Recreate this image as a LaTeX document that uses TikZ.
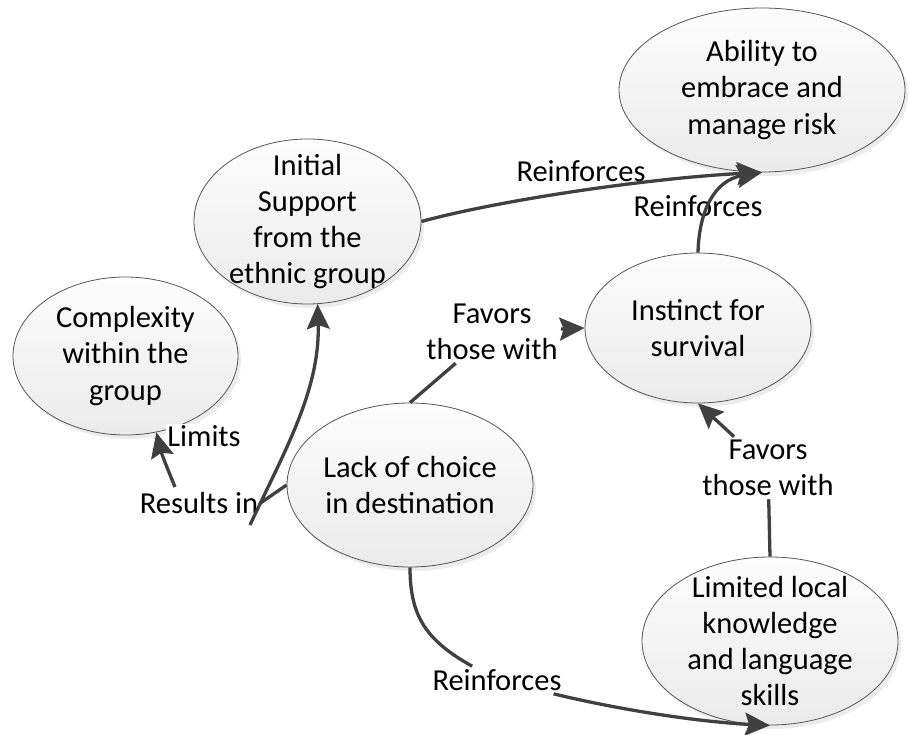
\documentclass[tikz,border=0pt]{standalone}
\usepackage{fontspec}
\setmainfont{Carlito}
\usetikzlibrary{shapes.geometric,shadows,arrows.meta}
\definecolor{edgegray}{HTML}{404040}
\definecolor{rimgray}{HTML}{555555}
\tikzset{
  bubble/.style={ellipse, draw=rimgray, line width=0.8pt, inner sep=0pt,
    top color=black!1, bottom color=black!8,
    drop shadow={shadow xshift=3pt, shadow yshift=-4pt, fill=black!15}},
  caption/.style={align=center, font=\fontsize{30.5}{36.3}\selectfont, inner sep=0pt},
  tag/.style={align=center, font=\fontsize{30.5}{36.3}\selectfont, inner sep=3pt},
  link/.style={draw=edgegray, line width=3.3pt},
  arr/.style={link, -{Stealth[length=25pt,width=23pt,inset=4pt]}},
}
\begin{document}
\begin{tikzpicture}[x=1pt,y=-1pt]
\useasboundingbox (0,0) rectangle (909,735);

% concept ellipses
\node[bubble, minimum width=286pt, minimum height=164pt] (ability)    at (762,90)    {};
\node[bubble, minimum width=227pt, minimum height=165pt] (initial)    at (307.5,221.5) {};
\node[bubble, minimum width=225pt, minimum height=158pt] (complexity) at (125.5,356) {};
\node[bubble, minimum width=246pt, minimum height=164pt] (lack)       at (410,485)   {};
\node[bubble, minimum width=226pt, minimum height=150pt] (instinct)   at (698,328)   {};
\node[bubble, minimum width=256pt, minimum height=168pt] (limited)    at (770,641)   {};

% concept texts
\node[caption] (ability-t)    at (ability)    {Ability to\\embrace and\\manage risk};
\node[caption] (initial-t)    at (initial)    {Initial\\Support\\from the\\ethnic group};
\node[caption] (complexity-t) at (complexity) {Complexity\\within the\\group};
\node[caption] (lack-t)       at (lack)       {Lack of choice\\in destination};
\node[caption] (instinct-t)   at (instinct)   {Instinct for\\survival};
\node[caption] (limited-t)    at (limited)    {Limited local\\knowledge\\and language\\skills};

% link labels
\node[tag] (rein1)   at (581,171) {Reinforces};
\node[tag] (rein2)   at (698,206) {Reinforces};
\node[tag] (fav1)    at (492,332) {Favors\\those with};
\node[tag] (fav2)    at (768,468) {Favors\\those with};
\node[tag] (rein3)   at (497,680) {Reinforces};
\node[tag] (results) at (199,503) {Results in};
\node[tag, fill=white, inner sep=1pt] (limits) at (204,436) {Limits};

% free ends of the split links
\coordinate (tail)   at (250,525);
\coordinate (join)   at (260.5,503);
\coordinate (cstart) at (175,487);

% links
\draw[arr] (initial.east) .. controls (500,200) and (650,178) .. (ability.south);
\draw[arr] (instinct.north) .. controls (699,210) and (715,180) .. (ability.south);
\draw[link] (lack.north) -- (fav1);
\draw[arr] (fav1) -- (instinct.west);
\draw[link] (limited.north) -- (fav2);
\draw[arr] (fav2) -- (instinct.south);
\draw[link] (lack.south) .. controls (410,615) and (425,640) .. (rein3);
\draw[arr] (rein3) .. controls (620,710) and (700,722) .. (limited.south);
\draw[arr] (tail) .. controls (285,450) and (320,390) .. (initial.-83);
\draw[link] (lack.west) -- (join);
\draw[arr] (cstart) .. controls (168,470) and (162,455) .. (complexity.-68);
\end{tikzpicture}
\end{document}
